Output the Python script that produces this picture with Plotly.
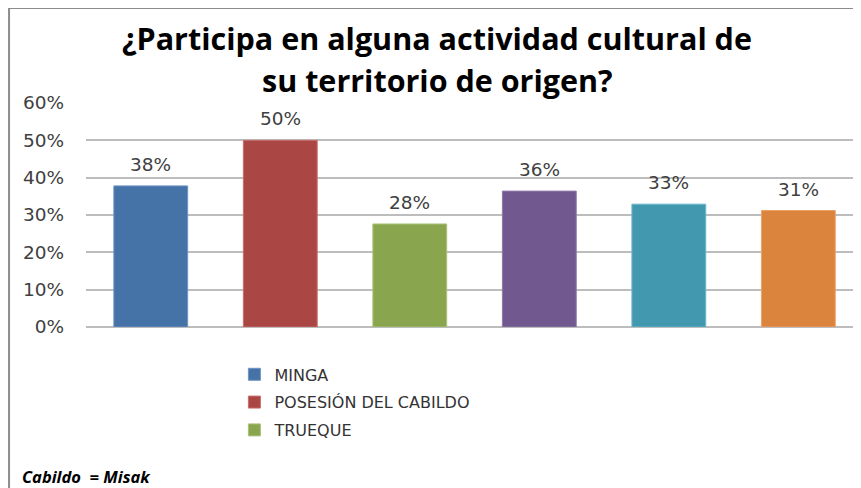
import plotly.graph_objects as go

# ---- data ----
categories = ["MINGA", "POSESIÓN DEL CABILDO", "TRUEQUE", "Categoría 4", "Categoría 5", "Categoría 6"]
values = [0.378, 0.50, 0.276, 0.364, 0.329, 0.312]
show_in_legend = [True, True, True, False, False, False]
colors = ["#4572A7", "#AA4643", "#89A54E", "#71588F", "#4198AF", "#DB843D"]
line_colors = ["#6f93c4", "#c86e6b", "#a9c27a", "#9079ad", "#6cb6ca", "#eea36a"]
y_ticks = [0, 0.1, 0.2, 0.3, 0.4, 0.5, 0.6]
title_lines = ["¿Participa en alguna actividad cultural de", "su territorio de origen?"]
footnote = "Cabildo\u00a0 = Misak"

# the page adds an 8px body margin, so the figure is 8px smaller than the window
W, H = 853, 480
L, R, T, B = 77.5, 0, 95.3, 161.3
pw, ph = W - L - R, H - T - B


def px_to_paper_x(px):
    return (px - L) / pw


def px_to_paper_y(py):
    return (H - B - py) / ph


fig = go.Figure()
for cat, val, col, lc, sl in zip(categories, values, colors, line_colors, show_in_legend):
    fig.add_trace(go.Bar(
        x=[cat], y=[val], name=cat, showlegend=sl, legendgroup=cat,
        marker=dict(color=col, line=dict(color=lc, width=1)),
        width=0.57,
    ))
    fig.add_annotation(
        x=cat, y=val, xref="x", yref="y", text=f"{round(val * 100)}%",
        showarrow=False, yanchor="bottom", yshift=9,
        font=dict(family="DejaVu Sans", size=18.5, color="#404040"),
    )

for line, py in zip(title_lines, [30, 72]):
    fig.add_annotation(
        x=px_to_paper_x(429), y=px_to_paper_y(py), xref="paper", yref="paper",
        text=line, showarrow=False, xanchor="center", yanchor="middle",
        font=dict(family="Open Sans", size=30.5, color="#000000", weight=700),
    )

fig.add_annotation(
    x=px_to_paper_x(11), y=px_to_paper_y(468), xref="paper", yref="paper",
    text=footnote, showarrow=False, xanchor="left", yanchor="middle",
    font=dict(family="Open Sans", size=16.5, color="#000000", weight=700, style="italic"),
)

# frame lines (top and left)
fig.add_shape(type="line", xref="paper", yref="paper",
              x0=px_to_paper_x(0.5), x1=px_to_paper_x(W + 5),
              y0=px_to_paper_y(0.5), y1=px_to_paper_y(0.5),
              line=dict(color="#8c8c8c", width=2))
fig.add_shape(type="line", xref="paper", yref="paper",
              x0=px_to_paper_x(0.5), x1=px_to_paper_x(0.5),
              y0=px_to_paper_y(0.5), y1=px_to_paper_y(H + 5),
              line=dict(color="#8c8c8c", width=2))

fig.update_layout(
    width=W, height=H,
    margin=dict(l=L, r=R, t=T, b=B, pad=0, autoexpand=False),
    paper_bgcolor="white", plot_bgcolor="white",
    barmode="overlay",
    showlegend=True,
    legend=dict(
        x=px_to_paper_x(226), y=px_to_paper_y(349), xanchor="left", yanchor="top",
        font=dict(family="DejaVu Sans", size=16, color="#333333"),
        bgcolor="rgba(0,0,0,0)", traceorder="grouped", tracegroupgap=4,
    ),
    xaxis=dict(
        range=[-0.5, -0.5 + pw / 129.6], showticklabels=False, showgrid=False,
        zeroline=False, showline=False, ticks="", fixedrange=True,
    ),
    yaxis=dict(
        range=[0, 0.6], tickvals=y_ticks, tickformat=".0%",
        showgrid=True, gridcolor="#bdbdbd", gridwidth=1.5,
        zeroline=True, zerolinecolor="#bdbdbd", zerolinewidth=1.5,
        showline=False, ticks="", ticklabelstandoff=21,
        tickfont=dict(family="DejaVu Sans", size=18.5, color="#404040"),
    ),
)

fig.write_html("out.html")
